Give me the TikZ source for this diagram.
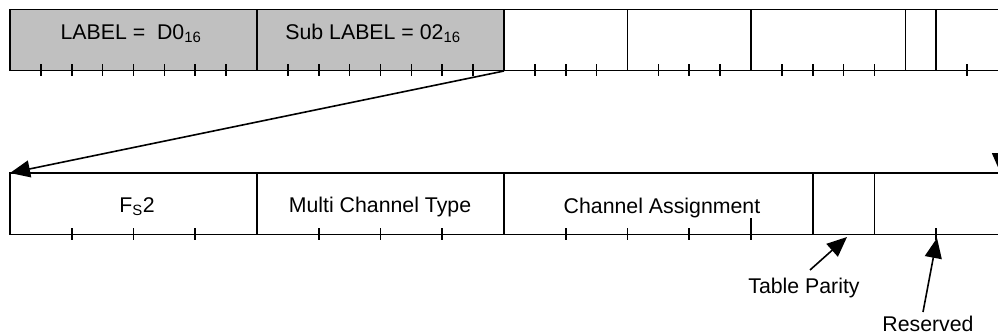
\documentclass[tikz,border=0pt]{standalone}
\usepackage{fontspec}
\setmainfont{Liberation Sans}
\usetikzlibrary{arrows.meta}
\definecolor{boxgray}{HTML}{C0C0C0}
\begin{document}
\begin{tikzpicture}[x=1pt,y=-1pt, line width=1.6pt,
  lbl/.style={font=\fontsize{21.3}{25}\selectfont, inner sep=0pt, anchor=base},
  arr/.style={-{Triangle[length=20pt,width=17pt]}, line width=1.6pt}]
\useasboundingbox (0,0) rectangle (998,335);
% top row (32 bits)
\fill[boxgray] (10,9.5) rectangle (504,70.5);
\draw (1010,9.5) -- (10,9.5) -- (10,70.5) -- (1010,70.5);
\foreach \b in {8,16,20,24,29,30} \draw (10+\b*30.875,9.5) -- (10+\b*30.875,70.5);
\foreach \b in {1,2,3,4,5,6,7,9,10,11,12,13,14,15,17,18,19,21,22,23,25,26,27,28,31}
  \draw (10+\b*30.875,64) -- (10+\b*30.875,76);
% bottom row (16 bits)
\draw (1010,173) -- (10,173) -- (10,234.5) -- (1010,234.5);
\foreach \b in {4,8,13,14} \draw (10+\b*61.75,173) -- (10+\b*61.75,234.5);
\foreach \b in {1,2,3,5,6,7,9,10,11,15}
  \draw (10+\b*61.75,228) -- (10+\b*61.75,240);
\draw (10+12*61.75,218) -- (10+12*61.75,240);
% labels
\node[lbl] (lab) at (131,39) {LABEL =\ \ D0\textsubscript{16}};
\node[lbl] (sub) at (373,39) {Sub LABEL = 02\textsubscript{16}};
\node[lbl] (fs) at (137,212) {F\textsubscript{S}2};
\node[lbl] (mct) at (380,212) {Multi Channel Type};
\node[lbl] (ca) at (662,213) {Channel Assignment};
\node[lbl] (tp) at (804,293) {Table Parity};
\node[lbl] (res) at (928,331) {Reserved};
% connectors
\coordinate (gs) at (504,71);
\coordinate (ge) at (10,173);
\coordinate (rs) at (1000.5,71);
\coordinate (re) at (1000.5,173);
\coordinate (tps) at (810,270);
\coordinate (tpe) at (847,237);
\coordinate (rss) at (923,312);
\coordinate (rse) at (937,238);
\draw[arr] (gs) -- (ge);
\draw[arr] (rs) -- (re);
\draw[arr] (tps) -- (tpe);
\draw[arr] (rss) -- (rse);
\end{tikzpicture}
\end{document}
